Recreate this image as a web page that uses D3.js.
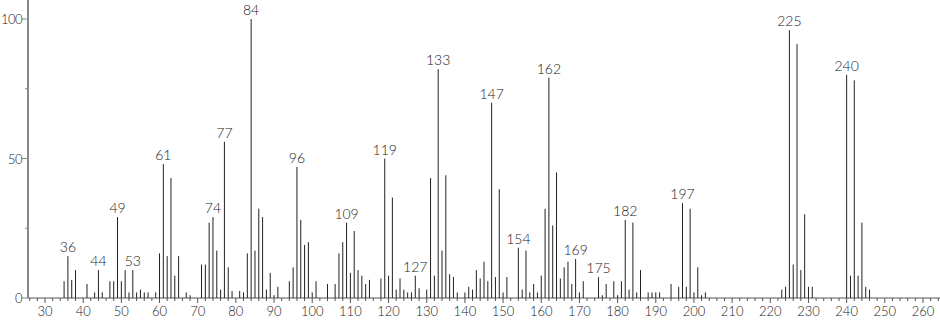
<!DOCTYPE html>
<html>
<head>
<meta charset="utf-8">
<script src="https://cdn.jsdelivr.net/npm/d3@7"></script>
<style>
  body { margin: 0; background: #fff; }
  text { font-family: Lato, "Open Sans", sans-serif; font-weight: 300; fill: #222; }
</style>
</head>
<body>
<div id="chart"></div>
<script>
// m/z values and their relative intensities
var masses = [35, 36, 37, 38, 41, 43, 44, 45, 47, 48, 49, 50, 51, 52, 53, 54, 55, 56, 57, 59,
  60, 61, 62, 63, 64, 65, 67, 68, 71, 72, 73, 74, 75, 76, 77, 78, 79, 81, 82, 83,
  84, 85, 86, 87, 88, 89, 90, 91, 94, 95, 96, 97, 98, 99, 100, 101, 104, 106, 107, 108,
  109, 110, 111, 112, 113, 114, 115, 118, 119, 120, 121, 122, 123, 124, 125, 126, 127, 128, 130, 131,
  132, 133, 134, 135, 136, 137, 138, 140, 141, 142, 143, 144, 145, 146, 147, 148, 149, 150, 151, 154,
  155, 156, 157, 158, 159, 160, 161, 162, 163, 164, 165, 166, 167, 168, 169, 170, 171, 175, 176, 177,
  179, 180, 181, 182, 183, 184, 185, 186, 188, 189, 190, 191, 194, 196, 197, 198, 199, 200, 201, 202,
  203, 223, 224, 225, 226, 227, 228, 229, 230, 231, 240, 241, 242, 243, 244, 245, 246];
var intensity = [6, 15, 6.5, 10, 5, 2, 10, 2, 6, 6, 29, 6, 10, 2, 10, 2, 3, 2, 2, 2,
  16, 48, 15, 43, 8, 15, 2, 1, 12, 12, 27, 29, 17, 3, 56, 11, 2.5, 2.5, 2, 16,
  100, 17, 32, 29, 3, 9, 1, 4, 6, 11, 47, 28, 19, 20, 2, 6, 5, 5, 16, 20,
  27, 9, 24, 10, 8, 5, 6.5, 7, 50, 8, 36, 3, 7, 3, 2, 2, 8, 3.5, 3, 43,
  8, 82, 17, 44, 8.5, 7.5, 2, 2, 4, 3, 10, 7, 13, 6, 70, 7.5, 39, 2, 7.5, 18,
  3, 17, 2, 5, 2, 8, 32, 79, 26, 45, 7, 11, 13, 5, 14, 2, 6, 7.5, 1, 5,
  6, 1, 6, 28, 3, 27, 2, 10, 2, 2, 2, 2, 5, 4, 34, 4, 32, 2, 11, 1,
  2, 3, 4, 96, 12, 91, 10, 30, 4, 4, 80, 8, 78, 8, 27, 4, 3];
var labelled = [36, 44, 49, 53, 61, 74, 77, 84, 96, 109, 119, 127, 133, 147, 154, 162, 169, 175, 182, 197, 225, 240];
var xTicks = [30, 40, 50, 60, 70, 80, 90, 100, 110, 120, 130, 140, 150, 160, 170, 180, 190, 200, 210, 220, 230, 240, 250, 260];
var yTicks = [0, 50, 100];

var peaks = masses.map(function(m, i) { return {mz: m, val: intensity[i]}; });

var width = 940, height = 320;
var svg = d3.select("#chart").append("svg")
  .attr("width", width)
  .attr("height", height);

var x = d3.scaleLinear().domain([30, 260]).range([45, 923]);
var y = d3.scaleLinear().domain([0, 100]).range([298, 19]);

var axisColor = "#555";

// x axis line plus major / minor ticks
svg.append("line")
  .attr("x1", 28).attr("x2", 940)
  .attr("y1", y(0)).attr("y2", y(0))
  .attr("stroke", axisColor).attr("stroke-width", 1);

var minor = d3.range(26, 265, 2).filter(function(d) { return d % 10 != 0; });
svg.selectAll(".minx").data(minor).enter().append("line")
  .attr("x1", function(d) { return x(d); }).attr("x2", function(d) { return x(d); })
  .attr("y1", y(0)).attr("y2", y(0) + 3)
  .attr("stroke", axisColor);

svg.selectAll(".majx").data(xTicks).enter().append("line")
  .attr("x1", function(d) { return x(d); }).attr("x2", function(d) { return x(d); })
  .attr("y1", y(0)).attr("y2", y(0) + 5)
  .attr("stroke", axisColor);

svg.selectAll(".xlab").data(xTicks).enter().append("text")
  .attr("x", function(d) { return x(d); })
  .attr("y", 316)
  .attr("text-anchor", "middle")
  .style("font-size", "13px")
  .text(function(d) { return d; });

// y axis
svg.append("line")
  .attr("x1", 28).attr("x2", 28)
  .attr("y1", 0).attr("y2", y(0))
  .attr("stroke", "#888").attr("stroke-width", 2);

svg.selectAll(".miny").data([25, 75]).enter().append("line")
  .attr("x1", 25).attr("x2", 28)
  .attr("y1", function(d) { return y(d); }).attr("y2", function(d) { return y(d); })
  .attr("stroke", "#888");

svg.selectAll(".majy").data(yTicks).enter().append("line")
  .attr("x1", 22).attr("x2", 28)
  .attr("y1", function(d) { return y(d); }).attr("y2", function(d) { return y(d); })
  .attr("stroke", "#888");

svg.selectAll(".ylab").data(yTicks).enter().append("text")
  .attr("x", 22)
  .attr("y", function(d) { return y(d) + 5; })
  .attr("text-anchor", "end")
  .style("font-size", "13px")
  .style("letter-spacing", "-0.5px")
  .text(function(d) { return d; });

// the peaks, 1px sticks left unrounded so they antialias like the original
svg.selectAll(".peak").data(peaks).enter().append("line")
  .attr("class", "peak")
  .attr("x1", function(d) { return x(d.mz); })
  .attr("x2", function(d) { return x(d.mz); })
  .attr("y1", y(0))
  .attr("y2", function(d) { return y(d.val); })
  .attr("stroke", "#222")
  .attr("stroke-width", 1);

svg.selectAll(".plab").data(peaks.filter(function(d) { return labelled.indexOf(d.mz) >= 0; }))
  .enter().append("text")
  .attr("x", function(d) { return x(d.mz); })
  .attr("y", function(d) { return y(d.val) - 4; })
  .attr("text-anchor", "middle")
  .style("font-size", "14px")
  .text(function(d) { return d.mz; });
</script>
</body>
</html>
